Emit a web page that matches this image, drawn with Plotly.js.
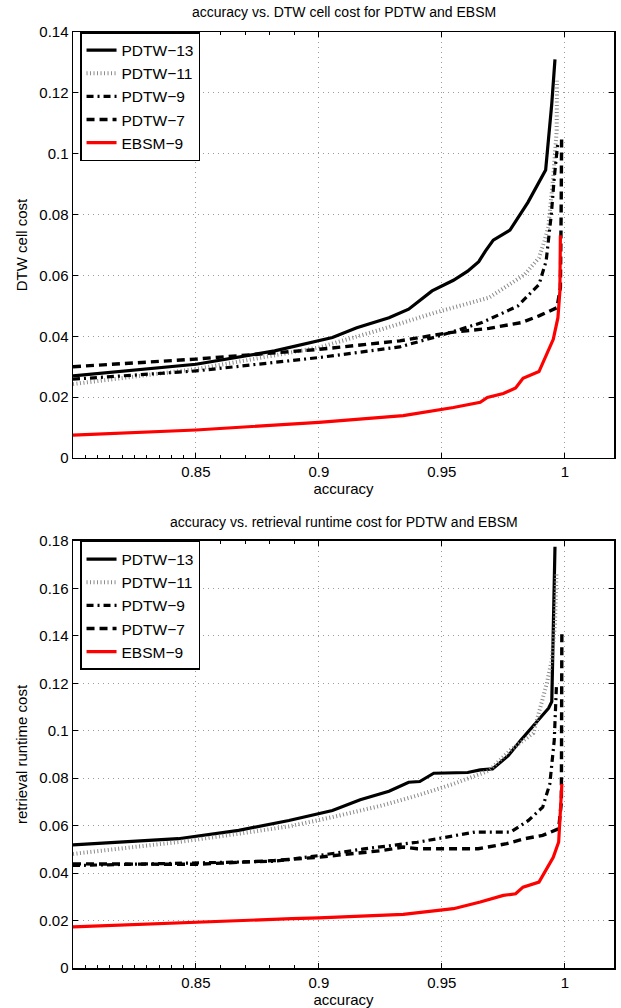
<!DOCTYPE html>
<html>
<head>
<meta charset="utf-8">
<script src="https://cdn.plot.ly/plotly-3.0.1.min.js"></script>
<style>
  html, body { margin: 0; padding: 0; background: #fff; }
  #chart { width: 621px; height: 1008px; }
</style>
</head>
<body>
<div id="chart"></div>
<script>
// ---------- Data ----------
const seriesNames = ["PDTW\u221213", "PDTW\u221211", "PDTW\u22129", "PDTW\u22127", "EBSM\u22129"];

// Top panel: accuracy vs. DTW cell cost
const cell_pdtw13_x = [0.800, 0.850, 0.882, 0.900, 0.9055, 0.9154, 0.9285, 0.9365, 0.946, 0.9547, 0.9605, 0.965, 0.9677, 0.9709, 0.9777, 0.9850, 0.9922, 0.9947, 0.9960];
const cell_pdtw13_y = [0.0270, 0.0308, 0.0352, 0.0387, 0.0396, 0.0428, 0.0461, 0.0489, 0.0549, 0.0584, 0.0614, 0.0645, 0.0680, 0.0716, 0.0749, 0.0840, 0.0946, 0.1165, 0.1310];

const cell_pdtw11_x = [0.800, 0.850, 0.900, 0.9256, 0.9474, 0.9692, 0.9837, 0.9895, 0.9917, 0.9933, 0.9953, 0.9967, 0.9968];
const cell_pdtw11_y = [0.0243, 0.0292, 0.0363, 0.0423, 0.0478, 0.0527, 0.0603, 0.0658, 0.0713, 0.0760, 0.0924, 0.1077, 0.1240];

const cell_pdtw9_x = [0.800, 0.850, 0.900, 0.9329, 0.9488, 0.9663, 0.9808, 0.9895, 0.9924, 0.9945, 0.9957, 0.9972];
const cell_pdtw9_y = [0.0259, 0.0286, 0.0330, 0.0365, 0.0401, 0.0445, 0.0499, 0.0570, 0.0647, 0.0800, 0.0920, 0.1040];

const cell_pdtw7_x = [0.800, 0.850, 0.900, 0.9329, 0.9532, 0.9692, 0.9823, 0.9895, 0.9968, 0.9982, 0.9985, 0.9987];
const cell_pdtw7_y = [0.0300, 0.0325, 0.0357, 0.0385, 0.0412, 0.0426, 0.0445, 0.0467, 0.0494, 0.0560, 0.0800, 0.1060];

const cell_ebsm9_x = [0.800, 0.850, 0.900, 0.9343, 0.9547, 0.9656, 0.9685, 0.975, 0.980, 0.983, 0.9895, 0.9953, 0.9972, 0.998, 0.9982];
const cell_ebsm9_y = [0.0075, 0.0092, 0.0117, 0.0139, 0.0166, 0.0183, 0.0199, 0.0212, 0.0230, 0.0262, 0.0284, 0.0390, 0.0461, 0.0549, 0.0732];

// Bottom panel: accuracy vs. retrieval runtime cost
const run_pdtw13_x = [0.800, 0.8428, 0.8674, 0.8878, 0.9055, 0.9168, 0.9285, 0.9365, 0.941, 0.9467, 0.9605, 0.9656, 0.9706, 0.977, 0.982, 0.9934, 0.9947, 0.9960];
const run_pdtw13_y = [0.0519, 0.0545, 0.0580, 0.0622, 0.0664, 0.0709, 0.0745, 0.0783, 0.0786, 0.0821, 0.0824, 0.0835, 0.0839, 0.0895, 0.0959, 0.1095, 0.1123, 0.1776];

const run_pdtw11_x = [0.800, 0.8428, 0.8674, 0.8878, 0.9055, 0.9256, 0.940, 0.9547, 0.9692, 0.9778, 0.9872, 0.9927, 0.9947, 0.9960, 0.9966];
const run_pdtw11_y = [0.0481, 0.0531, 0.0566, 0.0597, 0.0636, 0.0685, 0.0727, 0.0776, 0.0832, 0.0918, 0.0990, 0.1200, 0.1299, 0.1450, 0.1660];

const run_pdtw9_x = [0.800, 0.850, 0.882, 0.900, 0.9183, 0.940, 0.9547, 0.9634, 0.978, 0.9852, 0.991, 0.9939, 0.9957, 0.9966];
const run_pdtw9_y = [0.0432, 0.0442, 0.0450, 0.0474, 0.0502, 0.0530, 0.0559, 0.0573, 0.0573, 0.0622, 0.0678, 0.0776, 0.0959, 0.1190];

const run_pdtw7_x = [0.800, 0.850, 0.882, 0.900, 0.9256, 0.9343, 0.940, 0.9648, 0.9764, 0.9837, 0.991, 0.9975, 0.9986, 0.9988];
const run_pdtw7_y = [0.0439, 0.0437, 0.0453, 0.0467, 0.0495, 0.0510, 0.0503, 0.0503, 0.0524, 0.0545, 0.0559, 0.0587, 0.0700, 0.1425];

const run_ebsm9_x = [0.800, 0.850, 0.889, 0.900, 0.9343, 0.9547, 0.9656, 0.975, 0.980, 0.983, 0.9895, 0.9953, 0.9975, 0.9988];
const run_ebsm9_y = [0.0173, 0.0194, 0.0208, 0.0211, 0.0226, 0.0250, 0.0278, 0.0306, 0.0313, 0.0341, 0.0362, 0.0467, 0.0531, 0.0776];

const xTickVals = [0.85, 0.9, 0.95, 1];
const xTickText = ["0.85", "0.9", "0.95", "1"];
const xMinorVals = [0.805, 0.81, 0.815, 0.82, 0.825, 0.83, 0.835, 0.84, 0.845, 0.86, 0.87, 0.88, 0.89];

// ---------- Styles ----------
const styles = [
  { color: "#000000", width: 3.2, dash: "solid" },
  { color: "#8a8a8a", width: 4, dash: "1px,2.5px" },
  { color: "#000000", width: 3.2, dash: "7px,4px,2px,4px" },
  { color: "#000000", width: 3.4, dash: "8px,5px" },
  { color: "#ff0000", width: 3.2, dash: "solid" }
];

const topX = [cell_pdtw13_x, cell_pdtw11_x, cell_pdtw9_x, cell_pdtw7_x, cell_ebsm9_x];
const topY = [cell_pdtw13_y, cell_pdtw11_y, cell_pdtw9_y, cell_pdtw7_y, cell_ebsm9_y];
const botX = [run_pdtw13_x, run_pdtw11_x, run_pdtw9_x, run_pdtw7_x, run_ebsm9_x];
const botY = [run_pdtw13_y, run_pdtw11_y, run_pdtw9_y, run_pdtw7_y, run_ebsm9_y];

const traces = [];
for (let i = 0; i < seriesNames.length; i++) {
  traces.push({
    x: topX[i], y: topY[i], name: seriesNames[i], type: "scatter", mode: "lines",
    xaxis: "x", yaxis: "y", legend: "legend",
    line: { color: styles[i].color, width: styles[i].width, dash: styles[i].dash }
  });
}
for (let i = 0; i < seriesNames.length; i++) {
  traces.push({
    x: botX[i], y: botY[i], name: seriesNames[i], type: "scatter", mode: "lines",
    xaxis: "x2", yaxis: "y2", legend: "legend2",
    line: { color: styles[i].color, width: styles[i].width, dash: styles[i].dash }
  });
}

const FONT = "Liberation Sans, Arial, Helvetica, sans-serif";

function xAxis(anchor) {
  return {
    anchor: anchor, domain: [0, 1], range: [0.8, 1.02],
    tickmode: "array", tickvals: xTickVals, ticktext: xTickText,
    ticks: "inside", ticklen: 5, tickcolor: "#000", tickwidth: 1,
    showline: true, linecolor: "#000", linewidth: 1.5, mirror: "ticks",
    showgrid: true, gridcolor: "#9a9a9a", griddash: "1px,4px", gridwidth: 1,
    zeroline: false,
    minor: { tickmode: "array", tickvals: xMinorVals, ticks: "inside", ticklen: 3, tickcolor: "#000", showgrid: false },
    tickfont: { family: FONT, size: 15, color: "#000" },
    title: { text: "accuracy", font: { family: FONT, size: 15, color: "#000" }, standoff: 4 }
  };
}
function yAxis(anchor, domain, maxv, title) {
  return {
    anchor: anchor, domain: domain, range: [0, maxv],
    dtick: 0.02, tick0: 0,
    ticks: "inside", ticklen: 5, tickcolor: "#000", tickwidth: 1,
    showline: true, linecolor: "#000", linewidth: 1.5, mirror: "ticks",
    showgrid: true, gridcolor: "#9a9a9a", griddash: "1px,4px", gridwidth: 1,
    zeroline: false,
    tickfont: { family: FONT, size: 15, color: "#000" },
    title: { text: title, font: { family: FONT, size: 15, color: "#000" }, standoff: 8 }
  };
}

const legendCommon = {
  x: 0.013, xanchor: "left", yanchor: "top",
  bgcolor: "#ffffff", bordercolor: "#000", borderwidth: 1.5,
  font: { family: FONT, size: 15.5, color: "#000" },
  tracegroupgap: 0, itemwidth: 30, entrywidth: 118, entrywidthmode: "pixels"
};

const layout = {
  width: 621, height: 1008,
  margin: { l: 73, r: 7, t: 32, b: 40 },
  paper_bgcolor: "#fff", plot_bgcolor: "#fff",
  showlegend: true,
  xaxis: xAxis("y"),
  yaxis: yAxis("x", [0.5449, 1], 0.14, "DTW cell cost"),
  xaxis2: xAxis("y2"),
  yaxis2: yAxis("x2", [0, 0.4562], 0.18, "retrieval runtime cost"),
  legend: Object.assign({}, legendCommon, { y: 1.0 }),
  legend2: Object.assign({}, legendCommon, { y: 0.4562 }),
  annotations: [
    { text: "accuracy vs. DTW cell cost for PDTW and EBSM", xref: "paper", yref: "paper",
      x: 0.5, y: 1.0214, xanchor: "center", yanchor: "middle", showarrow: false,
      font: { family: FONT, size: 14, color: "#000" } },
    { text: "accuracy vs. retrieval runtime cost for PDTW and EBSM", xref: "paper", yref: "paper",
      x: 0.5, y: 0.4765, xanchor: "center", yanchor: "middle", showarrow: false,
      font: { family: FONT, size: 14, color: "#000" } }
  ]
};

Plotly.newPlot("chart", traces, layout, { displayModeBar: false, staticPlot: true });
</script>
</body>
</html>
